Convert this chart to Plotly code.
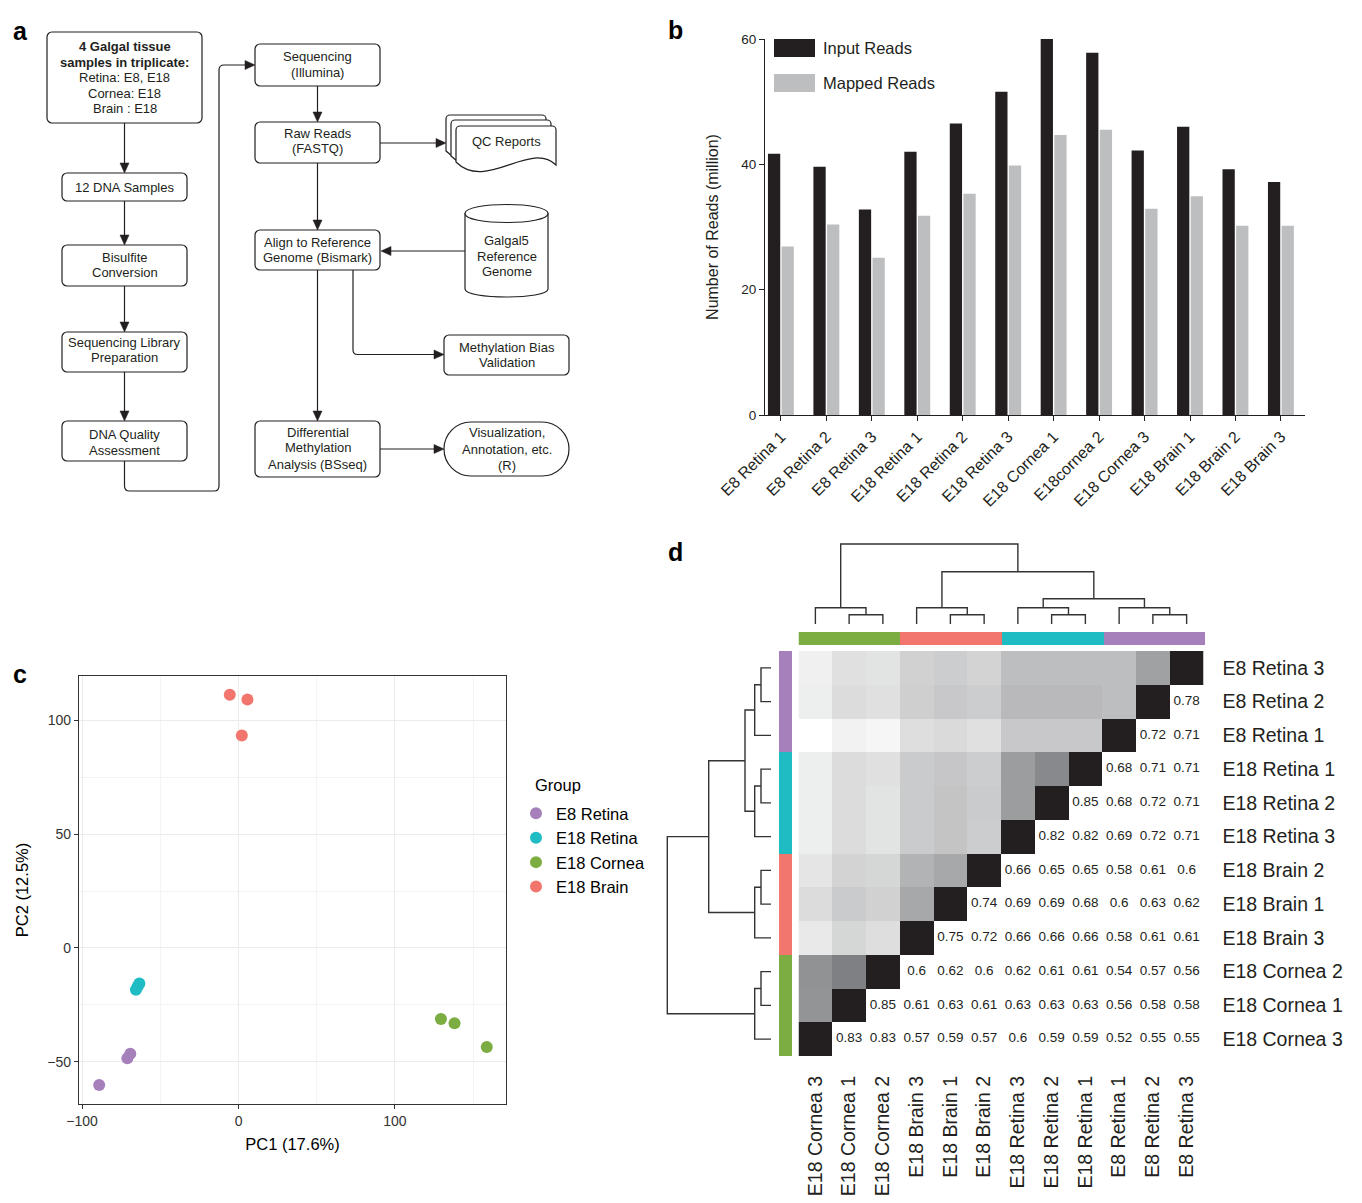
import plotly.graph_objects as go

W, H = 1362, 1203
FONT = "Liberation Sans, Arial, Helvetica, sans-serif"
INK = "#231f20"

# ---------------- Panel b data ----------------
samples_b = ["E8 Retina 1", "E8 Retina 2", "E8 Retina 3", "E18 Retina 1", "E18 Retina 2",
             "E18 Retina 3", "E18 Cornea 1", "E18cornea 2", "E18 Cornea 3", "E18 Brain 1",
             "E18 Brain 2", "E18 Brain 3"]
input_reads = [41.7, 39.6, 32.8, 42.0, 46.5, 51.6, 60.2, 57.8, 42.2, 46.0, 39.2, 37.2]
mapped_reads = [26.9, 30.4, 25.1, 31.8, 35.3, 39.8, 44.7, 45.5, 32.9, 34.9, 30.2, 30.2]

# ---------------- Panel c data ----------------
groups = ["E8 Retina", "E18 Retina", "E18 Cornea", "E18 Brain"]
pc1_e8_retina = [-69.2, -71.1, -89.1]
pc2_e8_retina = [-46.5, -48.5, -60.2]
pc1_e18_retina = [-63.4, -64.5, -65.6]
pc2_e18_retina = [-15.6, -17.0, -18.4]
pc1_e18_cornea = [129.4, 138.1, 158.7]
pc2_e18_cornea = [-31.2, -33.1, -43.5]
pc1_e18_brain = [-5.6, 5.7, 2.1]
pc2_e18_brain = [111.3, 109.2, 93.4]

# ---------------- Panel d data ----------------
heat_rows = ["E8 Retina 3", "E8 Retina 2", "E8 Retina 1", "E18 Retina 1", "E18 Retina 2",
             "E18 Retina 3", "E18 Brain 2", "E18 Brain 1", "E18 Brain 3", "E18 Cornea 2",
             "E18 Cornea 1", "E18 Cornea 3"]
heat_cols = ["E18 Cornea 3", "E18 Cornea 1", "E18 Cornea 2", "E18 Brain 3", "E18 Brain 1",
             "E18 Brain 2", "E18 Retina 3", "E18 Retina 2", "E18 Retina 1", "E8 Retina 1",
             "E8 Retina 2", "E8 Retina 3"]
# correlations printed right of the diagonal (row i starts at column 12 - i)
corr_lower = [
    [],
    [0.78],
    [0.72, 0.71],
    [0.68, 0.71, 0.71],
    [0.85, 0.68, 0.72, 0.71],
    [0.82, 0.82, 0.69, 0.72, 0.71],
    [0.66, 0.65, 0.65, 0.58, 0.61, 0.6],
    [0.74, 0.69, 0.69, 0.68, 0.6, 0.63, 0.62],
    [0.75, 0.72, 0.66, 0.66, 0.66, 0.58, 0.61, 0.61],
    [0.6, 0.62, 0.6, 0.62, 0.61, 0.61, 0.54, 0.57, 0.56],
    [0.85, 0.61, 0.63, 0.61, 0.63, 0.63, 0.63, 0.56, 0.58, 0.58],
    [0.83, 0.83, 0.57, 0.59, 0.57, 0.6, 0.59, 0.59, 0.52, 0.55, 0.55],
]
# shading (0 = white, 1 = black) of cells left of the diagonal
shade_upper = [
    [0.07, 0.14, 0.13, 0.21, 0.23, 0.20, 0.30, 0.30, 0.30, 0.30, 0.43],
    [0.08, 0.16, 0.14, 0.22, 0.25, 0.23, 0.32, 0.32, 0.32, 0.30],
    [0.00, 0.06, 0.04, 0.15, 0.17, 0.14, 0.25, 0.25, 0.25],
    [0.08, 0.16, 0.14, 0.24, 0.26, 0.23, 0.45, 0.54],
    [0.08, 0.16, 0.13, 0.24, 0.27, 0.24, 0.45],
    [0.08, 0.16, 0.13, 0.24, 0.27, 0.23],
    [0.12, 0.20, 0.19, 0.35, 0.40],
    [0.16, 0.24, 0.21, 0.40],
    [0.10, 0.19, 0.15],
    [0.50, 0.58],
    [0.49],
    [],
]
# cluster tree: (left, right, level index)
tree = (("E18 Cornea 3", ("E18 Cornea 1", "E18 Cornea 2", 0), 1),
        (("E18 Brain 3", ("E18 Brain 1", "E18 Brain 2", 0), 1),
         (("E18 Retina 3", ("E18 Retina 2", "E18 Retina 1", 0), 1),
          ("E8 Retina 1", ("E8 Retina 2", "E8 Retina 3", 0), 1), 2), 3), 4)
col_tree_heights = [0.093, 0.163, 0.253, 0.523, 0.80]
row_tree_heights = [0.10, 0.163, 0.26, 0.623, 1.037]

GROUP_COLORS = {"E8 Retina": "#a680ba", "E18 Retina": "#1fbcc3",
                "E18 Cornea": "#7bad42", "E18 Brain": "#f2766e"}


def X(x):
    return x / W


def Y(y):
    return 1 - y / H


def group_of(name):
    return name.rsplit(" ", 1)[0]


fig = go.Figure()

# ---------------- Panel b ----------------
fig.add_trace(go.Bar(x=samples_b, y=input_reads, marker=dict(color=INK, line=dict(width=0)),
                     name="Input Reads", showlegend=False, xaxis="x", yaxis="y"))
fig.add_trace(go.Bar(x=samples_b, y=mapped_reads, marker=dict(color="#bcbec0", line=dict(width=0)),
                     name="Mapped Reads", showlegend=False, xaxis="x", yaxis="y"))

# ---------------- Panel c ----------------
pcs = {"E8 Retina": (pc1_e8_retina, pc2_e8_retina),
       "E18 Retina": (pc1_e18_retina, pc2_e18_retina),
       "E18 Cornea": (pc1_e18_cornea, pc2_e18_cornea),
       "E18 Brain": (pc1_e18_brain, pc2_e18_brain)}
for g in groups:
    fig.add_trace(go.Scatter(x=pcs[g][0], y=pcs[g][1], mode="markers", name=g,
                             marker=dict(color=GROUP_COLORS[g], size=12),
                             xaxis="x2", yaxis="y2"))

# ---------------- Panel d ----------------
n = len(heat_rows)
z = []
for i in range(n):
    d = n - 1 - i
    row = []
    for j in range(n):
        if j < d:
            row.append(shade_upper[i][j])
        elif j == d:
            row.append(1.0)
        else:
            row.append(None)
    z.append(row)
fig.add_trace(go.Heatmap(z=z, x=list(range(n)), y=list(range(n)), zmin=0, zmax=1,
                         colorscale=[[0, "rgb(255,255,255)"], [0.6, "rgb(123,124,127)"],
                                     [0.999, "rgb(100,101,104)"], [1, "rgb(35,31,32)"]],
                         showscale=False, hoverinfo="skip", xaxis="x3", yaxis="y3"))
tx, ty, tt = [], [], []
for i in range(n):
    for k, v in enumerate(corr_lower[i]):
        tx.append(n - i + k)
        ty.append(i)
        tt.append(f"{v:g}")
fig.add_trace(go.Scatter(x=tx, y=ty, text=tt, mode="text", showlegend=False,
                         textfont=dict(size=13.5, color=INK, family=FONT),
                         hoverinfo="skip", xaxis="x3", yaxis="y3"))


def tree_segments(node, pos, heights):
    if isinstance(node, str):
        return pos[node], 0.0, []
    left, right, level = node
    lc, lh, ls = tree_segments(left, pos, heights)
    rc, rh, rs = tree_segments(right, pos, heights)
    h = heights[level]
    seg = [(lc, lh), (lc, h), (rc, h), (rc, rh)]
    return (lc + rc) / 2, h, ls + rs + [seg]


col_pos = {name: j for j, name in enumerate(heat_cols)}
row_pos = {name: i for i, name in enumerate(heat_rows)}
_, _, csegs = tree_segments(tree, col_pos, col_tree_heights)
_, _, rsegs = tree_segments(tree, row_pos, row_tree_heights)
dx, dy = [], []
for seg in csegs:
    for p, h in seg:
        dx.append(p)
        dy.append(h)
    dx.append(None)
    dy.append(None)
fig.add_trace(go.Scatter(x=dx, y=dy, mode="lines", line=dict(color="#333333", width=1.4),
                         showlegend=False, hoverinfo="skip", xaxis="x4", yaxis="y4"))
lx, ly = [], []
for seg in rsegs:
    for p, h in seg:
        lx.append(h)
        ly.append(p)
    lx.append(None)
    ly.append(None)
fig.add_trace(go.Scatter(x=lx, y=ly, mode="lines", line=dict(color="#333333", width=1.4),
                         showlegend=False, hoverinfo="skip", xaxis="x5", yaxis="y5"))

gcode = {g: k for k, g in enumerate(groups)}
gscale = []
for k, g in enumerate(groups):
    gscale.append([k / 4, GROUP_COLORS[g]])
    gscale.append([(k + 1) / 4, GROUP_COLORS[g]])
fig.add_trace(go.Heatmap(z=[[gcode[group_of(c)] for c in heat_cols]], x=list(range(n)), y=[0],
                         zmin=-0.5, zmax=3.5, colorscale=gscale, showscale=False,
                         hoverinfo="skip", xaxis="x6", yaxis="y6"))
fig.add_trace(go.Heatmap(z=[[gcode[group_of(r)]] for r in heat_rows], x=[0], y=list(range(n)),
                         zmin=-0.5, zmax=3.5, colorscale=gscale, showscale=False,
                         hoverinfo="skip", xaxis="x7", yaxis="y7"))

# ---------------- Shapes / annotations (panel a and legend of b) ----------------
shapes = []
annotations = []
LW = 1.2


def P(*items):
    out = []
    for it in items:
        if isinstance(it, str):
            out.append(it)
        else:
            out.append(f"{X(it[0]):.6f},{Y(it[1]):.6f}")
    return " ".join(out)


def add_path(path, fill=None, width=LW):
    shapes.append(dict(type="path", path=path, xref="paper", yref="paper",
                       line=dict(color=INK, width=width),
                       fillcolor=fill if fill else "rgba(0,0,0,0)", layer="above"))


def rrect(x0, y0, x1, y1, r=5):
    k = 0.5523 * r
    return P("M", (x0 + r, y0), "L", (x1 - r, y0), "C", (x1 - r + k, y0), (x1, y0 + r - k), (x1, y0 + r),
             "L", (x1, y1 - r), "C", (x1, y1 - r + k), (x1 - r + k, y1), (x1 - r, y1),
             "L", (x0 + r, y1), "C", (x0 + r - k, y1), (x0, y1 - r + k), (x0, y1 - r),
             "L", (x0, y0 + r), "C", (x0, y0 + r - k), (x0 + r - k, y0), (x0 + r, y0), "Z")


def head(x, y, d):
    L, w = 10, 4.5
    if d == "down":
        pts = [(x - w, y - L), (x + w, y - L), (x, y)]
    elif d == "right":
        pts = [(x - L, y - w), (x - L, y + w), (x, y)]
    else:
        pts = [(x + L, y - w), (x + L, y + w), (x, y)]
    shapes.append(dict(type="path", path=P("M", pts[0], "L", pts[1], "L", pts[2], "Z"),
                       xref="paper", yref="paper", line=dict(color=INK, width=0.5),
                       fillcolor=INK, layer="above"))


def arrow_down(x, y0, y1):
    add_path(P("M", (x, y0), "L", (x, y1 - 9)))
    head(x, y1, "down")


def arrow_right(y, x0, x1):
    add_path(P("M", (x0, y), "L", (x1 - 9, y)))
    head(x1, y, "right")


def text(x, y, s, size=13, bold=False, anchor="center", color=INK):
    annotations.append(dict(x=X(x), y=Y(y), xref="paper", yref="paper", showarrow=False,
                            text=f"<b>{s}</b>" if bold else s, xanchor=anchor, yanchor="middle",
                            font=dict(family=FONT, size=size, color=color)))


def box(x0, y0, x1, y1, lines, r=5):
    add_path(rrect(x0, y0, x1, y1, r), fill="white")
    cx = (x0 + x1) / 2
    for ln in lines:
        text(cx, ln[1], ln[0], bold=(len(ln) > 2 and ln[2]))


# left column
box(47, 32, 202, 123, [("4 Galgal tissue", 46, True), ("samples in triplicate:", 62, True),
                       ("Retina: E8, E18", 78), ("Cornea: E18", 94), ("Brain : E18", 109)])
arrow_down(124.5, 123, 173)
box(62, 173, 187, 201, [("12 DNA Samples", 187)])
arrow_down(124.5, 201, 245)
box(62, 245, 187, 286, [("Bisulfite", 258), ("Conversion", 273)])
arrow_down(124.5, 286, 332)
box(62, 332, 187, 372, [("Sequencing Library", 343), ("Preparation", 358)])
arrow_down(124.5, 372, 421)
box(62, 421, 187, 461, [("DNA Quality", 434), ("Assessment", 450)])
add_path(P("M", (124.5, 461), "L", (124.5, 486), "Q", (124.5, 491), (129.5, 491), "L", (214, 491),
           "Q", (219, 491), (219, 486), "L", (219, 70), "Q", (219, 65), (224, 65), "L", (246, 65)))
head(255, 65, "right")

# middle column
box(255, 44, 380, 86, [("Sequencing", 56), ("(Illumina)", 72)])
arrow_down(317.5, 86, 122)
box(255, 122, 380, 163, [("Raw Reads", 134), ("(FASTQ)", 149)])
arrow_right(143, 380, 446)
arrow_down(317.5, 163, 230)
box(255, 230, 380, 270, [("Align to Reference", 243), ("Genome (Bismark)", 258)])
arrow_down(317.5, 270, 421)
box(255, 421, 380, 477, [("Differential", 432), ("Methylation", 448), ("Analysis (BSseq)", 464)])
arrow_right(449, 380, 444)
add_path(P("M", (353, 270), "L", (353, 350), "Q", (353, 354.5), (357.5, 354.5), "L", (435, 354.5)))
head(444, 354.5, "right")

# QC reports (stacked documents with wavy bottom)
for off_x, off_y in ((0, 0), (5, 5), (10, 11)):
    x0, y0, x1, yb = 446 + off_x, 115 + off_y, 546 + off_x, 151 + off_y
    r, k = 4, 2.2
    add_path(P("M", (x0, yb), "L", (x0, y0 + r), "C", (x0, y0 + r - k), (x0 + r - k, y0), (x0 + r, y0),
               "L", (x1 - r, y0), "C", (x1 - r + k, y0), (x1, y0 + r - k), (x1, y0 + r),
               "L", (x1, yb + 3), "C", (x1 - 26, yb - 22), (x0 + 30, yb + 30), (x0, yb), "Z"), fill="white")
text(506, 141, "QC Reports")

# reference genome cylinder
add_path(P("M", (465, 213.5), "L", (465, 289), "C", (465, 299.7), (548, 299.7), (548, 289), "L", (548, 213.5),
           "Z"), fill="white")
add_path(P("M", (465, 213.5), "C", (465, 201.5), (548, 201.5), (548, 213.5), "C", (548, 225.5), (465, 225.5),
           (465, 213.5), "Z"), fill="white")
text(506.5, 240, "Galgal5")
text(506.5, 256, "Reference")
text(506.5, 271, "Genome")
add_path(P("M", (465, 251), "L", (390, 251)))
head(381, 251, "left")

box(444, 335, 569, 375, [("Methylation Bias", 348), ("Validation", 363)])
box(444, 422, 569, 476, [("Visualization,", 433), ("Annotation, etc.", 449), ("(R)", 465)], r=27)

# panel labels
for lab, lx_, ly_ in (("a", 11, 31), ("b", 666, 30), ("c", 11, 674), ("d", 666, 552)):
    text(lx_, ly_, lab, size=25, bold=True, anchor="left", color="black")

# legend of panel b
for (y0, y1, col, lab) in ((39, 57, INK, "Input Reads"), (74, 92, "#bcbec0", "Mapped Reads")):
    shapes.append(dict(type="rect", xref="paper", yref="paper", x0=X(774), x1=X(815), y0=Y(y1), y1=Y(y0),
                       fillcolor=col, line=dict(width=0)))
    text(821, (y0 + y1) / 2, lab, size=16.5, anchor="left")

# title of the legend of panel c
text(533, 785, "Group", size=16.5, anchor="left", color="black")

# ---------------- Layout ----------------
hx = [X(798.5), X(1203.5)]
hy = [Y(1056), Y(651)]
noax = dict(showgrid=False, zeroline=False, showticklabels=False, ticks="", showline=False,
            automargin=False)

fig.update_layout(
    width=W, height=H, margin=dict(l=0, r=0, t=0, b=0, pad=0, autoexpand=False),
    paper_bgcolor="white", plot_bgcolor="white",
    font=dict(family=FONT, color=INK),
    barmode="group", bargap=0.4, bargroupgap=0.1,
    showlegend=True,
    legend=dict(x=X(516), y=Y(796), xanchor="left", yanchor="top",
                font=dict(size=16.5, color="black"), bgcolor="rgba(0,0,0,0)"),
    # panel b
    xaxis=dict(domain=[X(765), X(1305)], anchor="y", type="category", range=[-0.35, 11.53],
               showline=True, linecolor=INK, linewidth=1.2, ticks="outside", ticklen=5,
               tickcolor=INK, tickangle=-45, tickfont=dict(size=16), showgrid=False, automargin=False),
    yaxis=dict(domain=[Y(415), Y(39)], anchor="x", range=[0, 60], tickvals=[0, 20, 40, 60],
               showline=True, linecolor=INK, linewidth=1.2, ticks="outside", ticklen=5,
               tickcolor=INK, tickfont=dict(size=13.5), showgrid=False, zeroline=False, automargin=False,
               title=dict(text="Number of Reads (million)", font=dict(size=16), standoff=18)),
    # panel c
    xaxis2=dict(domain=[X(79), X(506)], anchor="y2", range=[-102, 171], tickvals=[-100, 0, 100],
                showline=True, mirror=True, linecolor="#333333", linewidth=1.2, automargin=False,
                ticks="outside", ticklen=4, tickcolor="#333333", tickfont=dict(size=14, color="#333333"),
                showgrid=True, gridcolor="#ebebeb", gridwidth=1, zeroline=False,
                minor=dict(tickvals=[-50, 50, 150], showgrid=True, gridcolor="#f4f4f4", gridwidth=0.8),
                title=dict(text="PC1 (17.6%)", font=dict(size=16.5, color="black"), standoff=10)),
    yaxis2=dict(domain=[Y(1104), Y(676)], anchor="x2", range=[-68.6, 119.5], tickvals=[-50, 0, 50, 100],
                showline=True, mirror=True, linecolor="#333333", linewidth=1.2, automargin=False,
                ticks="outside", ticklen=4, tickcolor="#333333", tickfont=dict(size=14, color="#333333"),
                showgrid=True, gridcolor="#ebebeb", gridwidth=1, zeroline=False,
                minor=dict(tickvals=[-25, 25, 75], showgrid=True, gridcolor="#f4f4f4", gridwidth=0.8),
                title=dict(text="PC2 (12.5%)", font=dict(size=16.5, color="black"), standoff=14)),
    # panel d heatmap
    xaxis3=dict(domain=hx, anchor="y3", range=[-0.5, n - 0.5], tickvals=list(range(n)), ticktext=heat_cols,
                tickangle=-90, ticks="outside", ticklen=11, tickcolor="rgba(0,0,0,0)", automargin=False,
                tickfont=dict(size=19.5, color=INK), showgrid=False, zeroline=False, showline=False),
    yaxis3=dict(domain=hy, anchor="x3", range=[n - 0.5, -0.5], tickvals=list(range(n)), ticktext=heat_rows,
                side="right", ticks="outside", ticklen=14, tickcolor="rgba(0,0,0,0)", automargin=False,
                tickfont=dict(size=19.5, color=INK), showgrid=False, zeroline=False, showline=False),
    # top dendrogram (1 unit = 100 px, leaves at y=624)
    xaxis4=dict(domain=hx, anchor="y4", range=[-0.5, n - 0.5], **noax),
    yaxis4=dict(domain=[Y(630), Y(536)], anchor="x4", range=[-0.06, 0.88], **noax),
    # left dendrogram (1 unit = 100 px, leaves at x=771)
    xaxis5=dict(domain=[X(660), X(776)], anchor="y5", range=[1.11, -0.05], **noax),
    yaxis5=dict(domain=hy, anchor="x5", range=[n - 0.5, -0.5], **noax),
    # group colour bars
    xaxis6=dict(domain=[X(798.5), X(1205)], anchor="y6", range=[-0.5, n - 0.5], **noax),
    yaxis6=dict(domain=[Y(645), Y(632)], anchor="x6", range=[-0.5, 0.5], **noax),
    xaxis7=dict(domain=[X(779), X(792)], anchor="y7", range=[-0.5, 0.5], **noax),
    yaxis7=dict(domain=hy, anchor="x7", range=[n - 0.5, -0.5], **noax),
    shapes=shapes, annotations=annotations,
)

fig.write_html("out.html", config={"displayModeBar": False},
               post_script="document.body.style.margin='0px';")
